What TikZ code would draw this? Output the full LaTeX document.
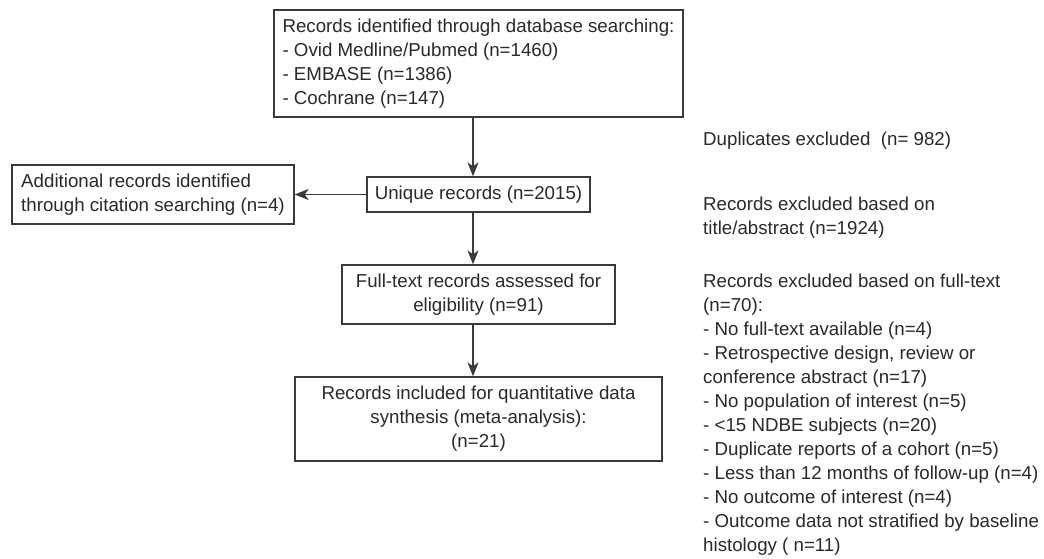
\documentclass[tikz,border=0pt]{standalone}
\usepackage{fontspec}
\setmainfont{Liberation Sans}
\usetikzlibrary{arrows.meta}
\definecolor{ink}{HTML}{2A2A2A}
\definecolor{rule}{HTML}{3A3A3A}
\begin{document}
\begin{tikzpicture}[x=1pt,y=-1pt,
  every node/.style={font=\fontsize{18.7}{24}\selectfont, text=ink},
  flowbox/.style={draw=rule, line width=1.3pt, inner sep=0pt, align=center},
  leftbox/.style={flowbox, align=left},
  note/.style={anchor=west, inner sep=0pt, align=left},
  arr/.style={draw=rule, line width=1.3pt, -{Stealth[length=14pt,width=11pt,inset=4pt]}}]
\useasboundingbox (0,0) rectangle (1044,558);
\fill[white] (0,0) rectangle (1044,558);

% main column
\node[leftbox, minimum width=409pt, minimum height=107pt] (search) at (478.5,63.5)
  {Records identified through database searching:\\- Ovid Medline/Pubmed (n=1460)\\- EMBASE (n=1386)\\- Cochrane (n=147)};
\node[flowbox, minimum width=223pt, minimum height=35pt] (unique) at (478.5,194.5)
  {Unique records (n=2015)};
\node[leftbox, minimum width=282pt, minimum height=59pt] (extra) at (153,194.5)
  {Additional records identified\\through citation searching (n=4)};
\node[flowbox, minimum width=273pt, minimum height=59pt] (full) at (478.5,294.5)
  {Full-text records assessed for\\eligibility (n=91)};
\node[flowbox, minimum width=367pt, minimum height=84pt] (incl) at (478.5,419)
  {Records included for quantitative data\\synthesis (meta-analysis):\\(n=21)};

% connectors
\coordinate (ax) at (473,0);
\draw[arr] (search.south -| ax) -- (unique.north -| ax);
\draw[arr] (unique.south -| ax) -- (full.north -| ax);
\draw[arr] (full.south -| ax) -- (incl.north -| ax);
\draw[arr] (unique.west) -- (extra.east);

% exclusion notes
\node[note] (dup) at (703,141) {Duplicates excluded\ \ (n= 982)};
\node[note] (title) at (703,217.5) {Records excluded based on\\title/abstract (n=1924)};
\node[note] (ftx) at (703,415) {Records excluded based on full-text\\(n=70):\\- No full-text available (n=4)\\- Retrospective design, review or\\conference abstract (n=17)\\- No population of interest (n=5)\\- <15 NDBE subjects (n=20)\\- Duplicate reports of a cohort (n=5)\\- Less than 12 months of follow-up (n=4)\\- No outcome of interest (n=4)\\- Outcome data not stratified by baseline\\histology ( n=11)};
\end{tikzpicture}
\end{document}
